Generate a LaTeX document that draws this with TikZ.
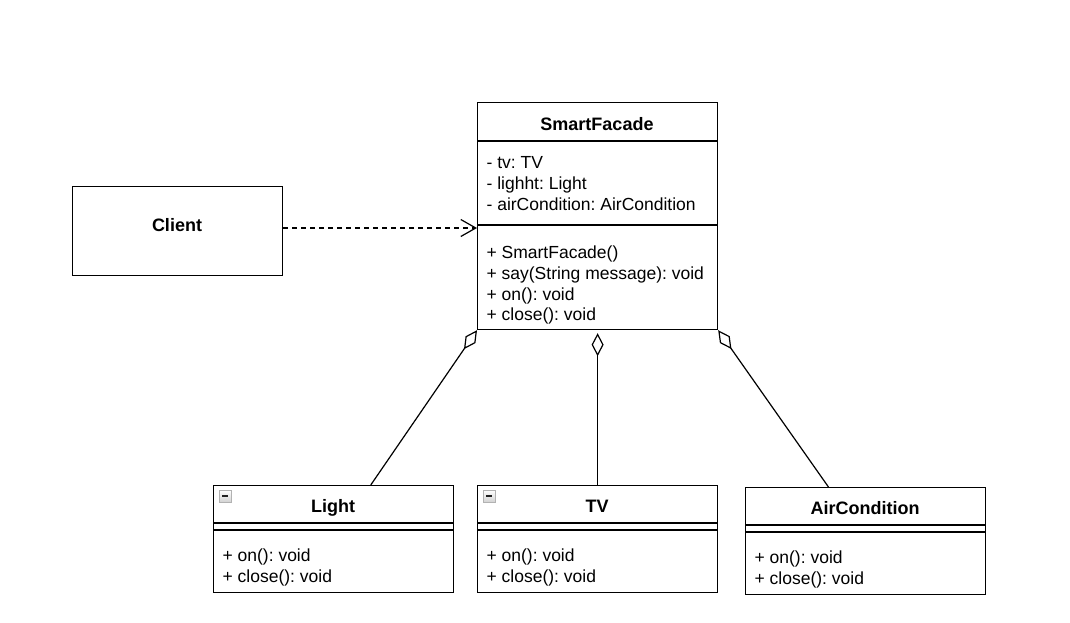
\documentclass[tikz,border=0pt]{standalone}
\usepackage{fontspec}
\setmainfont{Liberation Sans}
\usetikzlibrary{arrows.meta,calc}
\begin{document}
\frenchspacing
\begin{tikzpicture}[x=1pt,y=-1pt, line width=1.2pt,
 box/.style={draw, rectangle, inner sep=0pt, anchor=north west, line width=1.2pt},
 txt/.style={anchor=base west, inner sep=0pt, font=\fontsize{17.5}{20}\selectfont},
 ttl/.style={anchor=base, inner sep=0pt, font=\fontsize{18}{20}\selectfont\bfseries},
 agg/.style={-{Diamond[open,length=23pt,width=12pt,line width=1.2pt]}},
 dep/.style={dash pattern=on 5pt off 4pt, -{Straight Barb[length=15pt,width=17pt,line width=1.2pt]}},
 icon/.style={draw=gray!60, line width=0.8pt, top color=white, bottom color=gray!35}]
\useasboundingbox (0,0) rectangle (1070,622);
% boxes
\node[box, minimum width=240pt, minimum height=227pt] (facade) at (477,102) {};
\node[box, minimum width=210pt, minimum height=89pt] (client) at (72,186) {};
\node[box, minimum width=240pt, minimum height=107pt] (light) at (213,485) {};
\node[box, minimum width=240pt, minimum height=107pt] (tv) at (477,485) {};
\node[box, minimum width=240pt, minimum height=107pt] (air) at (745,487) {};
% compartments
\draw (facade.west |- 0,141) -- (facade.east |- 0,141);
\draw (facade.west |- 0,225) -- (facade.east |- 0,225);
\draw (light.west |- 0,523) -- (light.east |- 0,523);
\draw (light.west |- 0,530) -- (light.east |- 0,530);
\draw (tv.west |- 0,523) -- (tv.east |- 0,523);
\draw (tv.west |- 0,530) -- (tv.east |- 0,530);
\draw (air.west |- 0,525) -- (air.east |- 0,525);
\draw (air.west |- 0,532) -- (air.east |- 0,532);
% titles
\node[ttl] (tfacade) at (597,130) {SmartFacade};
\node[ttl] (tclient) at (177,231) {Client};
\node[ttl] (tlight) at (333,512) {Light};
\node[ttl] (ttv) at (597,512) {TV};
\node[ttl] (tair) at (865,514) {AirCondition};
% SmartFacade members
\node[txt] (a1) at (486,168) {- tv: TV};
\node[txt] (a2) at (486,189) {- lighht: Light};
\node[txt] (a3) at (486,210) {- airCondition: AirCondition};
\node[txt] (m1) at (486,258) {+ SmartFacade()};
\node[txt] (m2) at (486,279) {+ say(String message): void};
\node[txt] (m3) at (486,300) {+ on(): void};
\node[txt] (m4) at (486,320) {+ close(): void};
% Light members
\node[txt] (l1) at (222,561) {+ on(): void};
\node[txt] (l2) at (222,582) {+ close(): void};
% TV members
\node[txt] (v1) at (486,561) {+ on(): void};
\node[txt] (v2) at (486,582) {+ close(): void};
% AirCondition members
\node[txt] (c1) at (754,563) {+ on(): void};
\node[txt] (c2) at (754,584) {+ close(): void};
% icons
\draw[icon] (219,490) rectangle (231,502);
\draw[line width=1.6pt, gray!25!black] (222,496) -- (228,496);
\draw[icon] (483,490) rectangle (495,502);
\draw[line width=1.6pt, gray!25!black] (486,496) -- (492,496);
% connectors
\draw[dep] (client.east |- 0,228) -- (facade.west |- 0,228);
\draw[agg] ($(light.north west)!0.654!(light.north east)$) -- (facade.south west);
\draw[agg] (tv.north) -- ($(facade.south)+(0,3)$);
\draw[agg] ($(air.north west)!0.346!(air.north east)$) -- (facade.south east);
\end{tikzpicture}
\end{document}
